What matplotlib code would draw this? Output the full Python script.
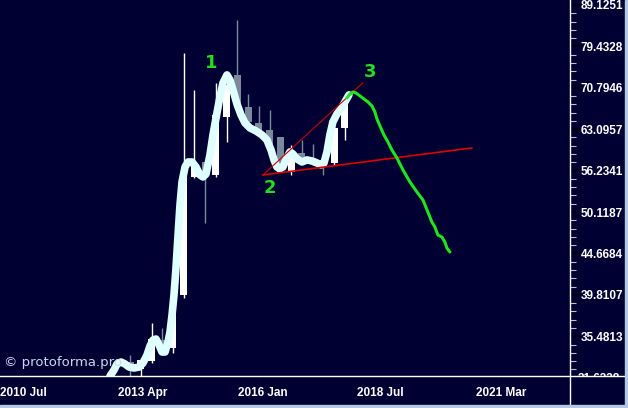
import numpy as np
import matplotlib
matplotlib.use("Agg")
import matplotlib.pyplot as plt
from matplotlib.lines import Line2D
from matplotlib.patches import Rectangle
from matplotlib.ticker import FixedLocator, NullFormatter

# ---- data (quarterly candles, index 0 = first candle) ----
opens  = [33.03, 32.39, 33.12, 35.11, 34.36, 39.79, 55.25, 57.60, 55.56, 65.28, 73.37,
          67.13, 64.20, 62.97, 61.75, 56.02, 59.06, 58.25, 57.76, 57.44, 63.32]
highs  = [33.68, 33.40, 36.81, 36.30, 39.68, 78.00, 70.38, 57.60, 71.76, 73.99, 85.50,
          69.60, 67.31, 66.57, 61.75, 60.39, 61.24, 60.56, 58.74, 65.10, 68.26]
lows   = [31.59, 31.59, 32.94, 34.17, 33.87, 39.46, 55.10, 48.62, 55.25, 60.90, 66.57,
          63.85, 62.44, 59.89, 56.02, 55.56, 57.60, 57.13, 55.56, 57.13, 61.24]
closes = [32.48, 33.21, 35.21, 34.36, 39.57, 55.25, 56.97, 55.40, 65.65, 71.36, 66.94,
          64.38, 62.79, 60.23, 56.34, 59.06, 57.93, 57.60, 56.97, 63.32, 68.07]

# smoothed trend line (white)
trend_x = [-1.86, -1.49, -1.21, -0.84, -0.47, -0.09, 0.37, 0.84, 1.21, 1.58, 1.86, 2.14,
           2.42, 2.70, 2.98, 3.26, 3.53, 3.72, 3.91, 4.09, 4.28, 4.47, 4.65, 4.84, 5.12,
           5.40, 5.77, 6.14, 6.51, 6.79, 7.07, 7.44, 7.72, 8.09, 8.37, 8.65, 9.02, 9.30,
           9.58, 9.95, 10.33, 10.70, 11.16, 11.72, 12.28, 12.74, 13.12, 13.40, 13.67,
           13.95, 14.23, 14.51, 14.88, 15.16, 15.53, 16.00, 16.47, 16.93, 17.40, 17.77,
           18.05, 18.33, 18.60, 18.88, 19.26, 19.63, 20.00, 20.37]
trend_y = [31.77, 32.30, 32.85, 33.03, 32.85, 32.57, 32.48, 32.57, 32.94, 33.68, 34.53,
           35.11, 35.21, 34.63, 33.96, 33.96, 34.92, 35.90, 37.64, 39.79, 42.90, 47.02,
           51.11, 54.49, 56.81, 57.60, 57.60, 56.81, 55.56, 55.25, 55.71, 58.74, 62.10,
           66.02, 69.02, 71.76, 73.37, 72.36, 70.38, 67.69, 65.65, 64.20, 63.32, 62.79,
           62.10, 61.24, 59.56, 57.93, 56.81, 56.49, 56.81, 57.93, 59.23, 58.90, 58.09,
           57.60, 57.93, 57.76, 57.44, 57.13, 57.44, 59.23, 62.10, 64.38, 65.83, 66.75,
           68.07, 69.40]

# hand-drawn forecast (green)
fc_x = [20.19, 20.47, 20.74, 21.02, 21.40, 21.77, 22.14, 22.51, 22.79, 22.98, 23.26,
        23.63, 24.00, 24.37, 24.84, 25.40, 26.05, 26.70, 27.26, 27.72, 28.09, 28.37,
        28.65, 29.02, 29.30, 29.49, 29.77]
fc_y = [68.83, 69.60, 69.98, 69.79, 69.21, 68.63, 68.07, 67.31, 66.20, 64.92, 63.67,
        62.10, 60.90, 59.56, 58.25, 56.34, 54.49, 52.99, 51.83, 50.12, 48.75, 48.08,
        47.02, 46.76, 46.11, 45.35, 44.85]

# red trend lines (start / end)
upper_line_x = [12.37, 21.67]
upper_line_y = [55.56, 71.76]
lower_line_x = [12.37, 31.81]
lower_line_y = [55.56, 59.89]

wave_labels = ["1", "2", "3"]
wave_x = [7.53, 13.02, 22.33]
wave_y = [75.86, 53.59, 73.99]

xtick_labels = ["2010 Jul", "2013 Apr", "2016 Jan", "2018 Jul", "2021 Mar"]
xtick_pos = [-9.95, 1.21, 12.37, 23.26, 34.51]
ytick_vals = [10 ** (1.5 + 0.05 * k) for k in range(10)]

BG = "#000033"
W, H = 628, 408

fig = plt.figure(figsize=(W / 100, H / 100), dpi=100, facecolor=BG)
ax = fig.add_axes([0, (H - 376) / H, 569.5 / W, 376 / H])
ax.set_facecolor(BG)
ax.set_yscale("log")

idx = np.arange(len(opens))
o, c, hi, lo = map(np.array, (opens, closes, highs, lows))
up = c >= o
cols = np.where(up, "#ffffff", "#7a8a9a")
ax.vlines(idx, lo, hi, colors=cols, lw=1, zorder=2)
ax.bar(idx, np.abs(c - o), bottom=np.minimum(o, c), width=0.65,
       color=cols, edgecolor="none", zorder=3)

ax.plot(trend_x, trend_y, color="#e0ffff", lw=5.5, solid_capstyle="round",
        solid_joinstyle="round", zorder=4)
ax.plot(fc_x, fc_y, color="#1ee61e", lw=2.2, solid_capstyle="round", zorder=6)
ax.plot(upper_line_x, upper_line_y, color="#c80000", lw=0.8, zorder=5)
ax.plot(lower_line_x, lower_line_y, color="#e00000", lw=1.2, zorder=5)

for t, x, y in zip(wave_labels, wave_x, wave_y):
    ax.text(x, y, t, color="#22dd22", fontsize=13, fontweight="bold",
            ha="center", va="center", zorder=7)

ax.text(0.007, 0.037, "© protoforma.pro", transform=ax.transAxes, color="#c8d8f0",
        fontsize=9.5, ha="left", va="center", family="DejaVu Sans", zorder=7)

ax.set_xlim(-12.1, 40.9)
ax.set_ylim(10 ** 1.502, 10 ** 1.956)

ax.yaxis.tick_right()
ax.yaxis.set_major_locator(FixedLocator(ytick_vals))
ax.yaxis.set_minor_locator(FixedLocator([10 ** (1.5 + 0.01 * k) for k in range(47)]))
ax.yaxis.set_minor_formatter(NullFormatter())
ax.set_yticklabels([f"{v:.4f}" for v in ytick_vals])
ax.tick_params(axis="y", which="major", length=7, width=1.2, color="black", pad=1,
               labelcolor="white", labelsize=8.5)
ax.tick_params(axis="y", which="minor", length=4, width=0.8, color="#c0c0c0")
ax.set_xticks(xtick_pos)
ax.set_xticklabels(xtick_labels)
ax.tick_params(axis="x", length=3, color="black", pad=5, labelcolor="white", labelsize=8.5)
for lab in ax.get_xticklabels() + ax.get_yticklabels():
    lab.set_fontfamily("Liberation Sans")
    lab.set_fontweight("bold")
for s in ax.spines.values():
    s.set_visible(False)

# lowest price label sits just under the view limit; draw it by hand
ax.annotate(f"{ytick_vals[0]:.4f}", xy=(1, ytick_vals[0]),
            xycoords=("axes fraction", "data"), xytext=(5.8, 0),
            textcoords="offset points", color="white", fontsize=8.5,
            fontweight="bold", family="Liberation Sans", va="center_baseline",
            annotation_clip=False)

# hide the part of the lowest price label that falls under the frame
fig.add_artist(Rectangle((570 / W, 3 / H), 55 / W, (H - 377 - 3) / H,
                         transform=fig.transFigure, color=BG, zorder=5))
# frame lines and light border
fig.add_artist(Line2D([0, 625 / W], [(H - 376) / H] * 2, transform=fig.transFigure,
                      color="white", lw=1, zorder=6))
fig.add_artist(Line2D([569.5 / W] * 2, [3 / H, 1], transform=fig.transFigure,
                      color="white", lw=1, zorder=6))
fig.add_artist(Rectangle((625 / W, 0), 3 / W, 1, transform=fig.transFigure,
                         color="#b4c8e4", zorder=7))
fig.add_artist(Rectangle((0, 0), 1, 3 / H, transform=fig.transFigure,
                         color="#b4c8e4", zorder=7))

fig.savefig("out.png", dpi=100, facecolor=BG)
